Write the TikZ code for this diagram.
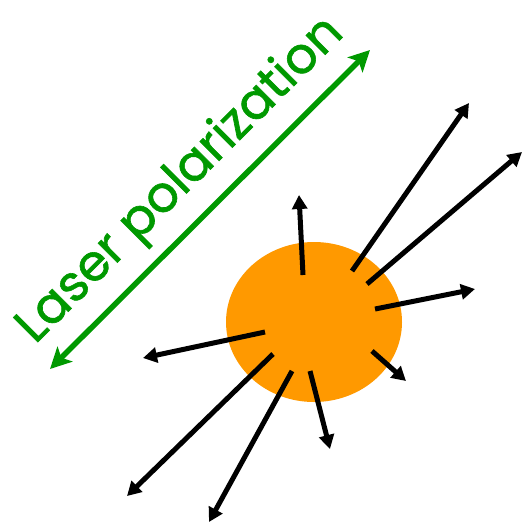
\documentclass[tikz,border=0pt]{standalone}
\usepackage{fontspec}
\newfontfamily\labelfont[FakeBold=1.2]{Poppins}
\usetikzlibrary{shapes.geometric, arrows.meta}

\definecolor{blobcol}{RGB}{255,153,0}
\definecolor{polcol}{RGB}{0,153,0}

\begin{document}
\begin{tikzpicture}[
    x=1pt, y=-1pt,
    blob/.style={ellipse, fill=blobcol, draw=none,
        minimum width=176pt, minimum height=160pt, inner sep=0pt},
    ion/.style={-{Triangle[length=14pt, width=15pt]}, line width=5pt, draw=black},
    polarrow/.style={{Stealth[length=21pt, width=21pt, inset=5pt]}-{Stealth[length=21pt, width=21pt, inset=5pt]},
        line width=5.5pt, draw=polcol},
    pollabel/.style={text=polcol, font=\labelfont\fontsize{50}{50}\selectfont,
        rotate=45, inner sep=0pt, anchor=base west},
]
\useasboundingbox (0,0) rectangle (524,523);

% ---- exploding cluster ----
\node (cluster) [blob] at (314,322) {};

% ---- fragment directions: start inside the cluster, free end outside ----
\foreach \i/\sx/\sy/\ex/\ey in {
    1/303/275/299/195,
    2/352/271/469/103,
    3/367/284/522/152,
    4/375/309/475/289,
    5/372/351/406/381,
    6/265/332/143/358,
    7/273/354/127/496,
    8/292/371/209/522,
    9/310/371/330/449}
{
    \coordinate (frag\i) at (\sx,\sy);
    \coordinate (tip\i)  at (\ex,\ey);
    \draw[ion] (frag\i) -- (tip\i);
}

% ---- laser polarization ----
\coordinate (polA) at (50,369);
\coordinate (polB) at (370,50);
\draw[polarrow] (polA) -- (polB);
\node (polname) [pollabel] at (35,345) {Laser polarization};

\end{tikzpicture}
\end{document}
